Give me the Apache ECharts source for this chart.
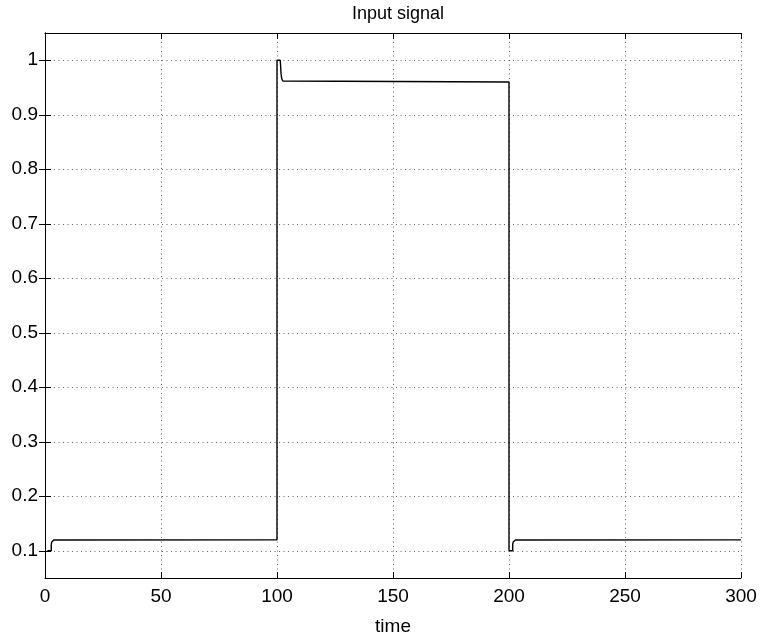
<!DOCTYPE html>
<html>
<head>
<meta charset="utf-8">
<script src="https://cdn.jsdelivr.net/npm/echarts@6/dist/echarts.min.js"></script>
<style>html,body{margin:0;padding:0;background:#fff;}#c{width:761px;height:641px;}</style>
</head>
<body>
<div id="c"></div>
<script>
// Signal samples (time, value)
var timeVals = [1, 2.7, 2.7, 2.9, 3.2, 3.8, 4.6, 100, 100, 101.4, 101.55, 101.75, 102.05, 102.5, 103.3, 200, 200, 201.6, 201.6, 201.8, 202.2, 202.8, 203.6, 300];
var signalVals = [0.1, 0.1, 0.112, 0.116, 0.1185, 0.1196, 0.12, 0.12, 1.0, 1.0, 0.99, 0.975, 0.966, 0.962, 0.96, 0.96, 0.1, 0.1, 0.112, 0.116, 0.1185, 0.1196, 0.12, 0.12];
var xTicks = [0, 50, 100, 150, 200, 250, 300];
var yTicks = [0.1, 0.2, 0.3, 0.4, 0.5, 0.6, 0.7, 0.8, 0.9, 1];
var titleText = 'Input signal';
var xName = 'time';

var pts = timeVals.map(function (t, i) { return [t, signalVals[i]]; });
var font = 'Liberation Sans, Arial, Helvetica, sans-serif';
var gridLine = { show: true, lineStyle: { color: '#666', type: [1, 3.5], width: 1 } };
var axLine = { show: true, lineStyle: { color: '#000', width: 1 } };

var chart = echarts.init(document.getElementById('c'), null, { renderer: 'canvas' });
chart.setOption({
  animation: false,
  backgroundColor: '#fff',
  title: {
    text: titleText, left: 393, top: 0, textAlign: 'center',
    textStyle: { fontFamily: font, fontSize: 18, fontWeight: 'normal', color: '#000' }
  },
  grid: { left: 45, right: 20, top: 33, bottom: 59, containLabel: false },
  xAxis: [{
    type: 'value', min: 0, max: 300, position: 'bottom',
    name: xName, nameLocation: 'middle', nameGap: 39,
    nameTextStyle: { fontFamily: font, fontSize: 19, color: '#000' },
    axisLine: axLine,
    axisTick: { show: true, inside: true, length: 6, customValues: xTicks, lineStyle: { color: '#000' } },
    axisLabel: { show: true, margin: 9, customValues: xTicks, fontFamily: font, fontSize: 19, color: '#000' },
    splitLine: gridLine
  }, {
    type: 'value', min: 0, max: 300, position: 'top',
    axisLine: axLine,
    axisTick: { show: true, inside: true, length: 6, customValues: xTicks, lineStyle: { color: '#000' } },
    axisLabel: { show: false, customValues: xTicks },
    splitLine: { show: false }
  }],
  yAxis: [{
    type: 'value', min: 0.05, max: 1.05, position: 'left',
    axisLine: axLine,
    axisTick: { show: true, inside: true, length: 6, customValues: yTicks, lineStyle: { color: '#000' } },
    axisLabel: { show: true, margin: 7, customValues: yTicks, fontFamily: font, fontSize: 19, color: '#000' },
    splitLine: gridLine
  }, {
    type: 'value', min: 0.05, max: 1.05, position: 'right',
    axisLine: axLine,
    axisTick: { show: true, inside: true, length: 6, customValues: yTicks, lineStyle: { color: '#000' } },
    axisLabel: { show: false, customValues: yTicks },
    splitLine: { show: false }
  }],
  series: [{
    type: 'line', data: pts, xAxisIndex: 0, yAxisIndex: 0,
    showSymbol: false, symbol: 'none', smooth: false,
    lineStyle: { color: '#000', width: 1.4 }
  }]
});
</script>
</body>
</html>
